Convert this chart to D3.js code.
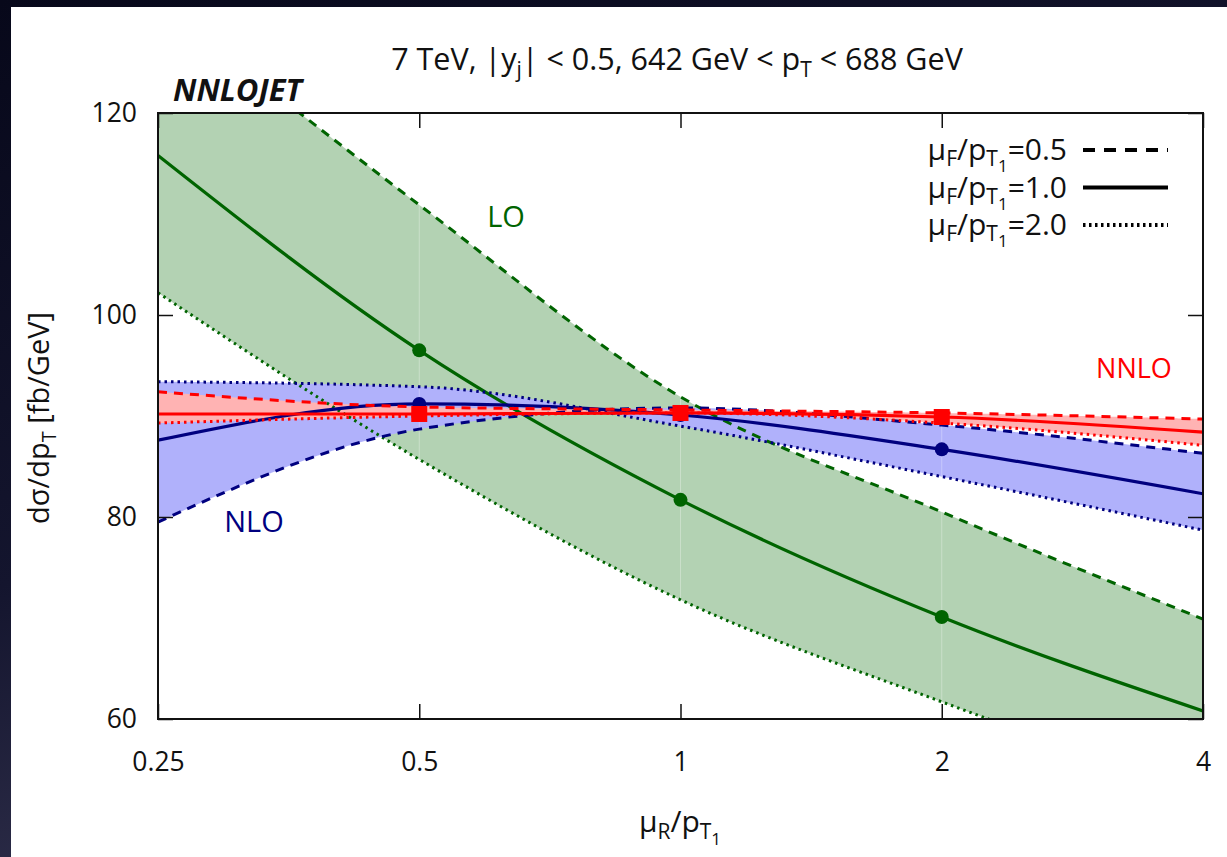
<!DOCTYPE html>
<html>
<head>
<meta charset="utf-8">
<script src="https://cdn.jsdelivr.net/npm/d3@7"></script>
<style>
  html, body { margin: 0; padding: 0; }
  body {
    width: 1227px; height: 857px; overflow: hidden;
    background: linear-gradient(160deg, #07081a 0%, #14152e 45%, #4a4968 100%);
  }
  svg { position: absolute; left: 0; top: 0; }
  text { font-family: "Open Sans", Lato, sans-serif; fill: #111; }
</style>
</head>
<body>
<script>
// renormalisation scale mu_R / p_T1
var muR = [0.25, 0.5, 1, 2, 4];
var xTicks = [0.25, 0.5, 1, 2, 4];
var yTicks = [60, 80, 100, 120];
var markerAt = [0.5, 1, 2];

// d sigma / d pT [fb/GeV], one array per mu_F / p_T1
var loF05  = [131.0, 110.9, 91.9, 80.5, 69.9];
var loF10  = [115.8, 96.5, 81.7, 70.1, 60.8];
var loF20  = [102.2, 85.7, 71.8, 61.7, 52.5];
var nloF05 = [79.5, 88.7, 90.8, 89.1, 86.3];
var nloF10 = [87.6, 91.2, 90.1, 86.7, 82.3];
var nloF20 = [93.4, 92.9, 89.0, 84.0, 78.7];
var nnloF05 = [92.4, 90.9, 90.6, 90.3, 89.7];
var nnloF10 = [90.2, 90.2, 90.3, 89.9, 88.4];
var nnloF20 = [89.3, 90.0, 90.3, 89.3, 87.1];

var orders = [
  {name: "LO",   color: "#006400", fill: "#b3d2b3", f05: loF05,   f10: loF10,   f20: loF20,   marker: "circle"},
  {name: "NLO",  color: "#00007f", fill: "#b0b1fb", f05: nloF05,  f10: nloF10,  f20: nloF20,  marker: "circle"},
  {name: "NNLO", color: "#ff0000", fill: "#ffb3b3", f05: nnloF05, f10: nnloF10, f20: nnloF20, marker: "square"}
];

var legendRows = ["0.5", "1.0", "2.0"];
var dashes = {f05: "9,7", f10: null, f20: "2.5,4"};

var W = 1227, H = 857;
var svg = d3.select("body").append("svg").attr("width", W).attr("height", H);

// white slide panel
svg.append("rect").attr("x", 11).attr("y", 7).attr("width", W - 11).attr("height", H - 7)
    .attr("fill", "#fff");

var x = d3.scaleLog().base(2).domain([0.25, 4]).range([158, 1203]);
var y = d3.scaleLinear().domain([60, 120]).range([719, 113]);

svg.append("clipPath").attr("id", "plot")
  .append("rect")
    .attr("x", x(0.25)).attr("y", y(120))
    .attr("width", x(4) - x(0.25)).attr("height", y(60) - y(120));

var g = svg.append("g").attr("clip-path", "url(#plot)");

var line = d3.line()
    .x(function(d) { return x(d[0]); })
    .y(function(d) { return y(d[1]); })
    .curve(d3.curveMonotoneX);

// sample a drawn curve so the band follows the curves exactly
function sample(vals) {
  var p = g.append("path").attr("d", line(muR.map(function(m, i) { return [m, vals[i]]; })));
  var node = p.node(), L = node.getTotalLength(), pts = [];
  for (var s = 0; s <= L; s += 1) pts.push(node.getPointAtLength(s));
  pts.push(node.getPointAtLength(L));
  p.remove();
  return pts;
}

function yAt(pts, px) {
  var i = d3.bisector(function(d) { return d.x; }).left(pts, px);
  if (i <= 0) return pts[0].y;
  if (i >= pts.length) return pts[pts.length - 1].y;
  var a = pts[i - 1], b = pts[i];
  var t = b.x === a.x ? 0 : (px - a.x) / (b.x - a.x);
  return a.y + t * (b.y - a.y);
}

// scale bands
orders.forEach(function(o) {
  var curves = [sample(o.f05), sample(o.f10), sample(o.f20)];
  var band = d3.range(x(0.25), x(4) + 1, 1).map(function(px) {
    var ys = curves.map(function(c) { return yAt(c, px); });
    return {px: px, top: d3.min(ys), bot: d3.max(ys)};
  });
  g.append("path")
      .attr("d", d3.area()
          .x(function(d) { return d.px; })
          .y0(function(d) { return d.bot; })
          .y1(function(d) { return d.top; })(band))
      .attr("fill", o.fill);
});

// faint seams of the filled bands
g.selectAll(".seam")
  .data(markerAt)
  .enter().append("line")
    .attr("class", "seam")
    .attr("x1", function(d) { return x(d); })
    .attr("x2", function(d) { return x(d); })
    .attr("y1", y(120)).attr("y2", y(60))
    .attr("stroke", "#fff").attr("stroke-opacity", 0.3).attr("stroke-width", 1);

// curves
orders.forEach(function(o) {
  ["f05", "f20", "f10"].forEach(function(k) {
    g.append("path")
        .attr("d", line(muR.map(function(m, i) { return [m, o[k][i]]; })))
        .attr("fill", "none")
        .attr("stroke", o.color)
        .attr("stroke-width", k === "f10" ? 3.2 : 3)
        .attr("stroke-dasharray", dashes[k]);
  });
});

// markers on the central curves
orders.forEach(function(o) {
  var pts = markerAt.map(function(m) { return [m, o.f10[muR.indexOf(m)]]; });
  if (o.marker === "circle") {
    g.selectAll(null).data(pts).enter().append("circle")
        .attr("cx", function(d) { return x(d[0]); })
        .attr("cy", function(d) { return y(d[1]); })
        .attr("r", 7)
        .attr("fill", o.color);
  } else {
    g.selectAll(null).data(pts).enter().append("rect")
        .attr("x", function(d) { return x(d[0]) - 8; })
        .attr("y", function(d) { return y(d[1]) - 8; })
        .attr("width", 16).attr("height", 16)
        .attr("fill", o.color);
  }
});

// axes
var fmt = function(d) { return String(d); };

svg.append("g")
    .attr("transform", "translate(0," + y(60) + ")")
    .call(d3.axisBottom(x).tickValues(xTicks).tickFormat(fmt).tickSize(-15).tickPadding(33))
    .call(styleAxis);

svg.append("g")
    .attr("transform", "translate(0," + y(120) + ")")
    .call(d3.axisTop(x).tickValues(xTicks).tickFormat("").tickSize(-15))
    .call(styleAxis);

svg.append("g")
    .attr("transform", "translate(" + x(0.25) + ",0)")
    .call(d3.axisLeft(y).tickValues(yTicks).tickFormat(fmt).tickSize(-15).tickPadding(21))
    .call(styleAxis);

svg.append("g")
    .attr("transform", "translate(" + x(4) + ",0)")
    .call(d3.axisRight(y).tickValues(yTicks).tickFormat("").tickSize(-15))
    .call(styleAxis);

function styleAxis(sel) {
  sel.select(".domain").remove();
  sel.selectAll(".tick line").attr("stroke", "#111").attr("stroke-width", 1.5);
  sel.selectAll(".tick text").attr("font-size", 26.5).attr("fill", "#111")
      .style("font-family", "'Open Sans', Lato, sans-serif");
}

// frame
svg.append("rect")
    .attr("x", x(0.25)).attr("y", y(120))
    .attr("width", x(4) - x(0.25)).attr("height", y(60) - y(120))
    .attr("fill", "none").attr("stroke", "#111").attr("stroke-width", 2);

// title
var title = svg.append("text").attr("x", 677).attr("y", 70)
    .attr("text-anchor", "middle").attr("font-size", 30.5);
title.append("tspan").text("7 TeV, |y");
title.append("tspan").attr("dy", 7).attr("font-size", 21).text("j");
title.append("tspan").attr("dy", -7).text("| < 0.5, 642 GeV < p");
title.append("tspan").attr("dy", 7).attr("font-size", 21).text("T");
title.append("tspan").attr("dy", -7).text(" < 688 GeV");

svg.append("text").attr("x", 173).attr("y", 101)
    .attr("font-size", 31).attr("font-weight", "bold").attr("font-style", "italic")
    .text("NNLOJET");

// axis titles
var yl = svg.append("text")
    .attr("transform", "translate(49,418) rotate(-90)")
    .attr("text-anchor", "middle").attr("font-size", 29);
yl.append("tspan").text("dσ/dp");
yl.append("tspan").attr("dy", 7).attr("font-size", 20).text("T");
yl.append("tspan").attr("dy", -7).text(" [fb/GeV]");

var xl = svg.append("text").attr("x", 680).attr("y", 832)
    .attr("text-anchor", "middle").attr("font-size", 30);
xl.append("tspan").text("μ");
xl.append("tspan").attr("dy", 7).attr("font-size", 21).text("R");
xl.append("tspan").attr("dy", -7).text("/p");
xl.append("tspan").attr("dy", 7).attr("font-size", 21).text("T");
xl.append("tspan").attr("dy", 6).attr("font-size", 17).text("1");

// order labels
svg.append("text").attr("x", 506).attr("y", 227).attr("text-anchor", "middle")
    .attr("font-size", 29).style("fill", orders[0].color).text("LO");
svg.append("text").attr("x", 254).attr("y", 532).attr("text-anchor", "middle")
    .attr("font-size", 29).style("fill", orders[1].color).text("NLO");
svg.append("text").attr("x", 1134).attr("y", 378).attr("text-anchor", "middle")
    .attr("font-size", 27).style("fill", orders[2].color).text("NNLO");

// legend
var legend = svg.append("g");
legendRows.forEach(function(r, i) {
  var ly = 160 + i * 37.5;
  var t = legend.append("text").attr("x", 1067).attr("y", ly)
      .attr("text-anchor", "end").attr("font-size", 30);
  t.append("tspan").text("μ");
  t.append("tspan").attr("dy", 6).attr("font-size", 21).text("F");
  t.append("tspan").attr("dy", -6).text("/p");
  t.append("tspan").attr("dy", 6).attr("font-size", 21).text("T");
  t.append("tspan").attr("dy", 6).attr("font-size", 17).text("1");
  t.append("tspan").attr("dy", -12).text("=" + r);
  var k = ["f05", "f10", "f20"][i];
  legend.append("line")
      .attr("x1", 1083).attr("x2", 1168)
      .attr("y1", ly - 10).attr("y2", ly - 10)
      .attr("stroke", "#000").attr("stroke-width", 4)
      .attr("stroke-dasharray", k === "f05" ? "12,9" : k === "f20" ? "2.5,3.5" : null);
});
</script>
</body>
</html>
